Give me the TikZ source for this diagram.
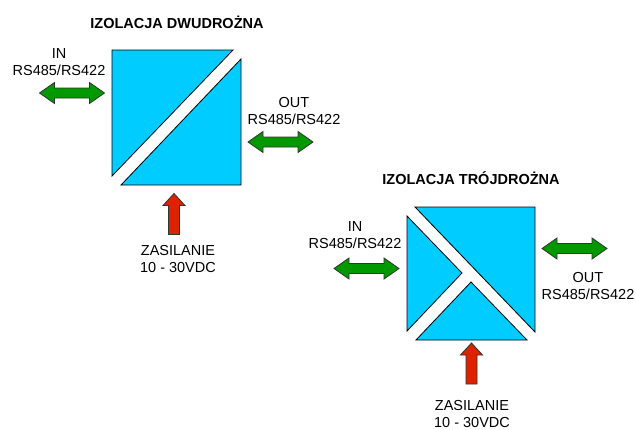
\documentclass[tikz,border=0pt]{standalone}
\usepackage{fontspec}
\setmainfont{Liberation Sans}
\definecolor{cyanfill}{RGB}{0,204,255}
\definecolor{greenfill}{RGB}{0,153,0}
\definecolor{redfill}{RGB}{221,34,0}
\tikzset{
  part/.style={fill=cyanfill,draw=black,line width=0.8pt,line join=miter},
  greenarrow/.style={fill=greenfill,draw=black!80,line width=0.8pt},
  redarrow/.style={fill=redfill,draw=black!80,line width=0.8pt},
  lbl/.style={align=center,inner sep=0pt,font=\fontsize{14.5}{17}\selectfont},
  ttl/.style={inner sep=0pt,font=\fontsize{14.5}{17}\selectfont\bfseries},
  dbl/.pic={\draw[greenarrow] (-32.5,0) -- (-17.5,-10.5) -- (-17.5,-5) -- (17.5,-5) -- (17.5,-10.5) -- (32.5,0) -- (17.5,10.5) -- (17.5,5) -- (-17.5,5) -- (-17.5,10.5) -- cycle;},
  uparrow/.pic={\draw[redarrow] (0,0) -- (11,12) -- (5.5,12) -- (5.5,41) -- (-5.5,41) -- (-5.5,12) -- (-11,12) -- cycle;}
}
\begin{document}
\begin{tikzpicture}[x=1pt,y=-1pt]
\useasboundingbox (0,0) rectangle (636,429);
% block 1
\draw[part] (112,50) -- (233,50) -- (112,176) -- cycle;
\draw[part] (241,59) -- (241,185) -- (121,185) -- cycle;
% block 2
\draw[part] (415,207) -- (535,207) -- (535,332) -- cycle;
\draw[part] (407,216) -- (462,273) -- (407,331) -- cycle;
\draw[part] (471,282) -- (527,340) -- (416,340) -- cycle;
% arrows
\pic at (72,93) {dbl};
\pic at (280.5,142) {dbl};
\pic at (366.5,268.5) {dbl};
\pic at (574.5,248.5) {dbl};
\pic at (174,193.5) {uparrow};
\pic at (471.5,343) {uparrow};
% texts
\node[ttl] (t1) at (177,22) {IZOLACJA DWUDROŻNA};
\node[ttl] (t2) at (471,178.5) {IZOLACJA TRÓJDROŻNA};
\node[lbl] (in1) at (59,62) {IN\\RS485/RS422};
\node[lbl] (out1) at (294,111.5) {OUT\\RS485/RS422};
\node[lbl] (in2) at (355,235.5) {IN\\RS485/RS422};
\node[lbl] (out2) at (588,286) {OUT\\RS485/RS422};
\node[lbl] (z1) at (178,259.5) {ZASILANIE\\10 - 30VDC};
\node[lbl] (z2) at (472,413.5) {ZASILANIE\\10 - 30VDC};
\end{tikzpicture}
\end{document}
